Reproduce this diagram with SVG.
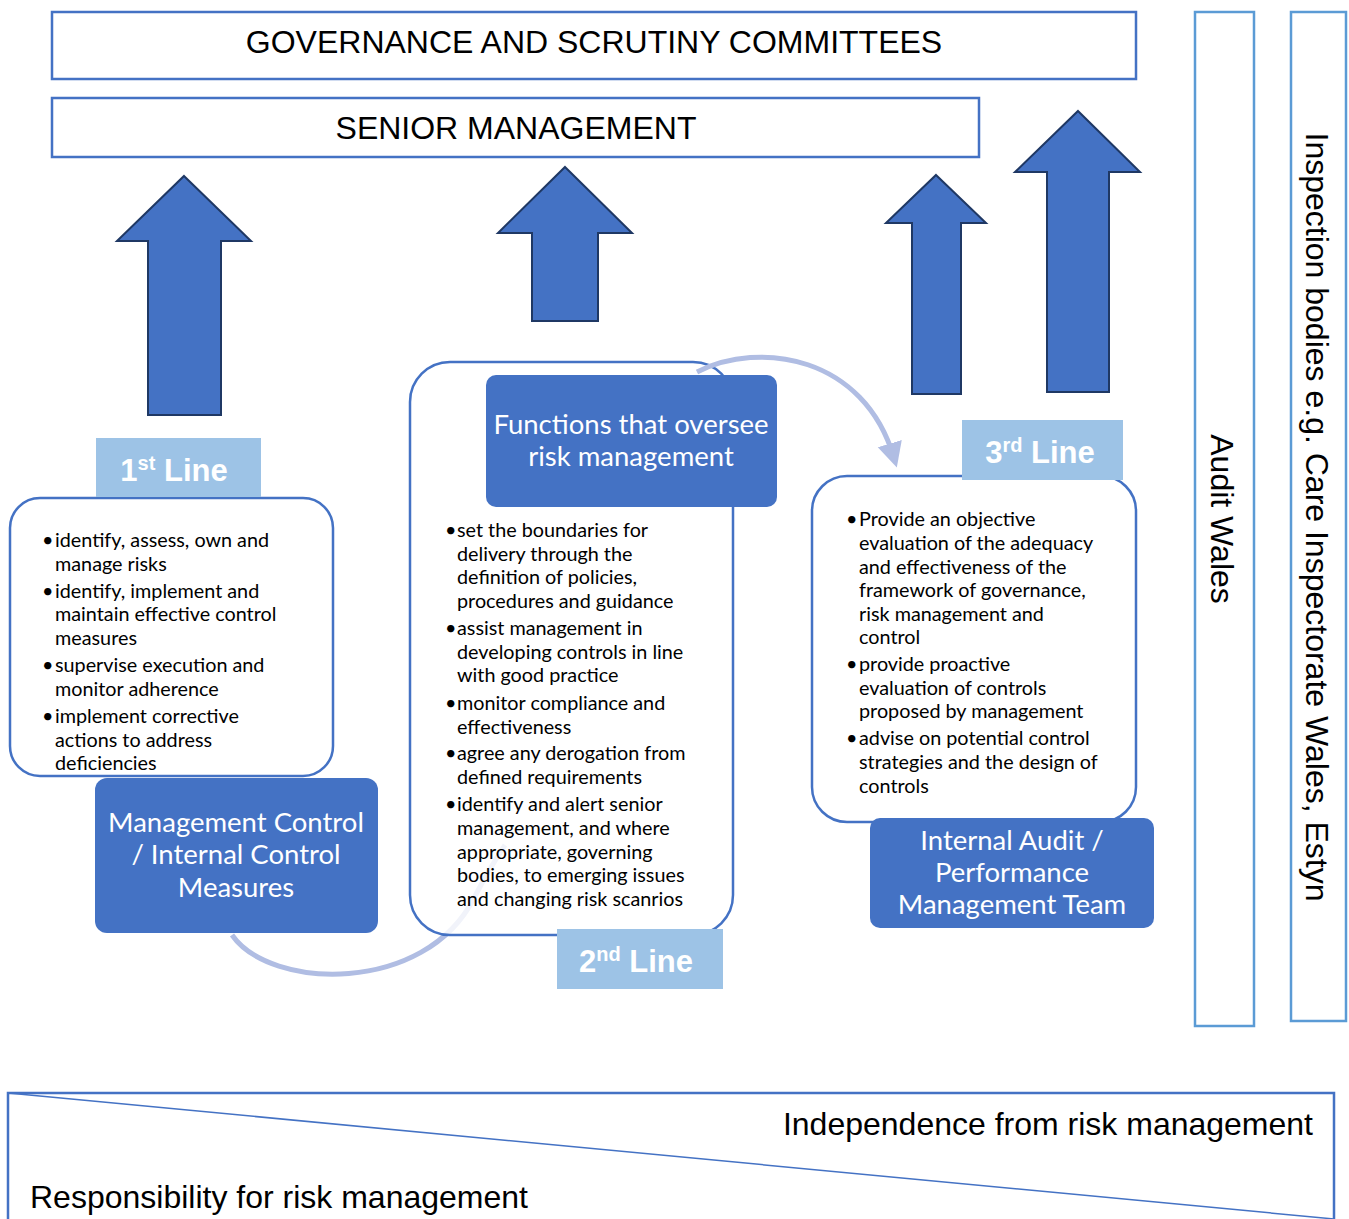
<svg xmlns="http://www.w3.org/2000/svg" width="1349" height="1219" viewBox="0 0 1349 1219">
<style>
.frame{fill:#fff;stroke:#4472C4;stroke-width:2.5}
.side{fill:#fff;stroke:#5B9BD5;stroke-width:2.5}
.big{fill:#4472C4;stroke:#1F3864;stroke-width:2}
.panel{fill:#fff;stroke:#4472C4;stroke-width:2.5}
.dark{fill:#4472C4}
.tag{fill:#9DC3E6}
.hd{font-family:"Liberation Sans",Arial,sans-serif;font-size:32px;fill:#000}
.tagt{font-family:"Liberation Sans",Arial,sans-serif;font-size:31px;font-weight:bold;fill:#fff}
.wt{font-family:Lato,"Open Sans",sans-serif;font-size:27.5px;fill:#fff;text-anchor:middle}
.bt{font-family:Lato,"Open Sans",sans-serif;font-size:19.8px;fill:#000}
.arc{fill:none;stroke:#B0BDE3;stroke-width:5}
</style>
<defs>
<marker id="ah" markerWidth="6" markerHeight="6" refX="3" refY="3" orient="auto" markerUnits="strokeWidth">
<path d="M0,0.5 L5,3 L0,5.5 z" fill="#B0BDE3"/>
</marker>
</defs>

<g id="governance">
<rect class="frame" x="52" y="12" width="1084" height="67"/>
<text class="hd" x="594" y="53" text-anchor="middle">GOVERNANCE AND SCRUTINY COMMITTEES</text>
</g>
<g id="senior-management">
<rect class="frame" x="52" y="98" width="927" height="59"/>
<text class="hd" x="516" y="139" text-anchor="middle">SENIOR MANAGEMENT</text>
</g>

<g id="arrow-1"><path class="big" d="M184,176 L251,241 L221,241 L221,415 L148,415 L148,241 L117,241 Z"/></g>
<g id="arrow-2"><path class="big" d="M565,167 L632,233 L598,233 L598,321 L532,321 L532,233 L498,233 Z"/></g>
<g id="arrow-3"><path class="big" d="M936,175 L986,223 L961,223 L961,394 L912,394 L912,223 L886,223 Z"/></g>
<g id="arrow-4"><path class="big" d="M1078,111 L1140,172 L1109,172 L1109,392 L1047,392 L1047,172 L1015,172 Z"/></g>

<g id="audit-wales">
<rect class="side" x="1195" y="12" width="59" height="1014"/>
<text class="hd" transform="translate(1211,519) rotate(90)" text-anchor="middle">Audit Wales</text>
</g>
<g id="inspection-bodies">
<rect class="side" x="1291" y="12" width="55" height="1009"/>
<text class="hd" transform="translate(1306,517) rotate(90)" text-anchor="middle">Inspection bodies e.g. Care Inspectorate Wales, Estyn</text>
</g>

<g id="connectors">
<path class="arc" d="M232,935 C270,990 425,995 474,898 C486,875 495,860 505,845"/>
</g>

<g id="first-line">
<rect class="panel" x="10" y="498" width="323" height="278" rx="30"/>
<rect class="tag" x="96" y="438" width="165" height="59"/>
<text class="tagt" x="174" y="481" text-anchor="middle">1<tspan font-size="20" dy="-11">st</tspan><tspan dy="11"> Line</tspan></text>
<g class="bt">
<text x="42" y="547">•</text><text x="55" y="547">identify, assess, own and</text>
<text x="55" y="571">manage risks</text>
<text x="42" y="598">•</text><text x="55" y="598">identify, implement and</text>
<text x="55" y="621">maintain effective control</text>
<text x="55" y="645">measures</text>
<text x="42" y="672">•</text><text x="55" y="672">supervise execution and</text>
<text x="55" y="696">monitor adherence</text>
<text x="42" y="723">•</text><text x="55" y="723">implement corrective</text>
<text x="55" y="747">actions to address</text>
<text x="55" y="770">deficiencies</text>
</g>
<rect class="dark" x="95" y="778" width="283" height="155" rx="12"/>
<text class="wt" x="236" y="832">Management Control</text>
<text class="wt" x="236" y="864">/ Internal Control</text>
<text class="wt" x="236" y="897">Measures</text>
</g>

<g id="second-line">
<rect class="panel" x="410" y="362" width="323" height="573" rx="40" fill-opacity="0.82"/>
<rect class="dark" x="486" y="375" width="291" height="132" rx="10"/>
<text class="wt" x="631" y="434">Functions that oversee</text>
<text class="wt" x="631" y="466">risk management</text>
<g class="bt">
<text x="445" y="537">•</text><text x="457" y="537">set the boundaries for</text>
<text x="457" y="561">delivery through the</text>
<text x="457" y="584">definition of policies,</text>
<text x="457" y="608">procedures and guidance</text>
<text x="445" y="635">•</text><text x="457" y="635">assist management in</text>
<text x="457" y="659">developing controls in line</text>
<text x="457" y="682">with good practice</text>
<text x="445" y="710">•</text><text x="457" y="710">monitor compliance and</text>
<text x="457" y="734">effectiveness</text>
<text x="445" y="760">•</text><text x="457" y="760">agree any derogation from</text>
<text x="457" y="784">defined requirements</text>
<text x="445" y="811">•</text><text x="457" y="811">identify and alert senior</text>
<text x="457" y="835">management, and where</text>
<text x="457" y="859">appropriate, governing</text>
<text x="457" y="882">bodies, to emerging issues</text>
<text x="457" y="906">and changing risk scanrios</text>
</g>
<rect class="tag" x="557" y="929" width="166" height="60"/>
<text class="tagt" x="636" y="972" text-anchor="middle">2<tspan font-size="20" dy="-11">nd</tspan><tspan dy="11"> Line</tspan></text>
</g>

<g id="third-line">
<rect class="panel" x="812" y="476" width="324" height="346" rx="35"/>
<rect class="tag" x="962" y="420" width="161" height="60"/>
<text class="tagt" x="1040" y="463" text-anchor="middle">3<tspan font-size="20" dy="-11">rd</tspan><tspan dy="11"> Line</tspan></text>
<g class="bt">
<text x="846" y="526">•</text><text x="859" y="526">Provide an objective</text>
<text x="859" y="550">evaluation of the adequacy</text>
<text x="859" y="574">and effectiveness of the</text>
<text x="859" y="597">framework of governance,</text>
<text x="859" y="621">risk management and</text>
<text x="859" y="644">control</text>
<text x="846" y="671">•</text><text x="859" y="671">provide proactive</text>
<text x="859" y="695">evaluation of controls</text>
<text x="859" y="718">proposed by management</text>
<text x="846" y="745">•</text><text x="859" y="745">advise on potential control</text>
<text x="859" y="769">strategies and the design of</text>
<text x="859" y="793">controls</text>
</g>
<rect class="dark" x="870" y="818" width="284" height="110" rx="10"/>
<text class="wt" x="1012" y="850">Internal Audit /</text>
<text class="wt" x="1012" y="882">Performance</text>
<text class="wt" x="1012" y="914">Management Team</text>
</g>

<g id="connectors-top">
<path class="arc" d="M697,372 C760,340 864,356 894,458" marker-end="url(#ah)"/>
</g>

<g id="independence-scale">
<rect x="8" y="1093" width="1326" height="140" fill="#fff" stroke="#4472C4" stroke-width="2.5"/>
<line x1="8" y1="1093" x2="1334" y2="1219" stroke="#4472C4" stroke-width="1.5"/>
<text class="hd" x="1313" y="1135" text-anchor="end">Independence from risk management</text>
<text class="hd" x="30" y="1208">Responsibility for risk management</text>
</g>
</svg>
